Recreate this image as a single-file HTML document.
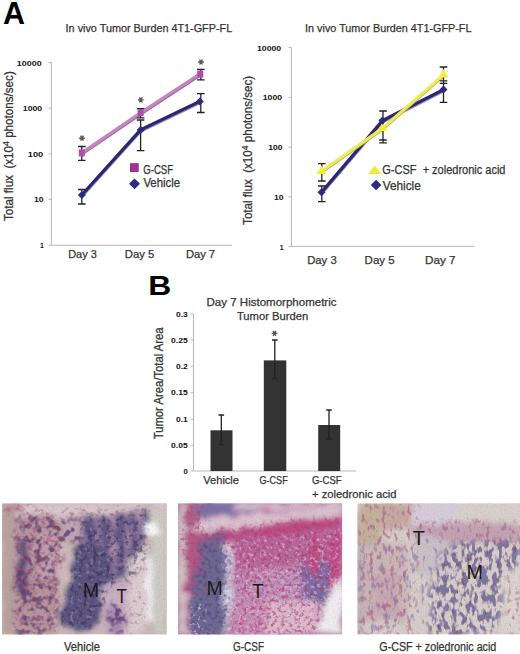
<!DOCTYPE html>
<html><head><meta charset="utf-8">
<style>
html,body{margin:0;padding:0;background:#fff;}
body{width:520px;height:654px;overflow:hidden;position:relative;font-family:"Liberation Sans",sans-serif;}
svg{position:absolute;left:0;top:0;}
text{font-family:"Liberation Sans",sans-serif;}
.t{fill:#333;font-size:11.5px;stroke:#333;stroke-width:0.25px;}
.tl{fill:#333;font-size:12px;stroke:#333;stroke-width:0.25px;}
.tk{fill:#111;font-size:7px;font-weight:bold;}
.ax{stroke:#b8b8b8;stroke-width:1;fill:none;}
.eb{stroke:#222;stroke-width:1.3;fill:none;}
</style></head>
<body>
<svg width="520" height="654" viewBox="0 0 520 654">
<!-- Panel labels -->
<text x="3" y="24.2" font-size="31" font-weight="bold" fill="#000" textLength="22" lengthAdjust="spacingAndGlyphs">A</text>
<text x="148.2" y="294.6" font-size="27.5" font-weight="bold" fill="#000" textLength="23" lengthAdjust="spacingAndGlyphs">B</text>

<!-- LEFT CHART -->
<text class="t" x="65.6" y="32.1" textLength="166.6" lengthAdjust="spacingAndGlyphs">In vivo Tumor Burden 4T1-GFP-FL</text>
<g class="tk" text-anchor="end">
<text x="41.6" y="65.5" textLength="24.8" lengthAdjust="spacingAndGlyphs">10000</text>
<text x="42.2" y="111.2" textLength="19.4" lengthAdjust="spacingAndGlyphs">1000</text>
<text x="43.2" y="157.1" textLength="15.4" lengthAdjust="spacingAndGlyphs">100</text>
<text x="43.6" y="202.4" textLength="9.6" lengthAdjust="spacingAndGlyphs">10</text>
<text x="43.7" y="248.2" textLength="3.8" lengthAdjust="spacingAndGlyphs">1</text>
</g>
<path class="ax" d="M51.4 62.5V245.3H232M48.5 62.5H51.4M48.5 108.2H51.4M48.5 153.9H51.4M48.5 199.3H51.4M48.5 245.3H51.4"/>
<text class="tl" transform="translate(12.8,221) rotate(-90)" x="0" y="0" textLength="149.8" lengthAdjust="spacingAndGlyphs">Total flux&#160; (x10<tspan font-size="9" dy="-4">4</tspan><tspan dy="4"> photons/sec)</tspan></text>
<g class="t">
<text x="68.2" y="257.7" textLength="28.6" lengthAdjust="spacingAndGlyphs">Day 3</text>
<text x="124.8" y="257.7" textLength="29.6" lengthAdjust="spacingAndGlyphs">Day 5</text>
<text x="185.9" y="257.7" textLength="29.2" lengthAdjust="spacingAndGlyphs">Day 7</text>
</g>
<!-- lines -->
<polyline points="81.8,196 140.6,130.9 199.8,102.4" fill="none" stroke="#8a88b0" stroke-width="3.5"/>
<polyline points="81.8,195 140.6,129.9 199.8,101.4" fill="none" stroke="#2a2870" stroke-width="3.2"/>
<polyline points="81.8,153.9 140.6,113.7 199.8,75" fill="none" stroke="#9a6a98" stroke-width="3.5"/>
<polyline points="81.8,152.9 140.6,112.7 199.8,74" fill="none" stroke="#c486c2" stroke-width="3.2"/>
<!-- error bars left -->
<path class="eb" d="M81.8 146.5V160.4M78 146.5H85.6M78 160.4H85.6
M140.6 108.7V117.8M136.8 108.7H144.4M136.8 117.8H144.4
M200.8 69.4V79.8M197 69.4H204.6M197 79.8H204.6
M81.8 189.5V204M78 189.5H85.6M78 204H85.6
M140.6 120V150.7M136.8 120H144.4M136.8 150.7H144.4
M200.8 93.6V112.5M197 93.6H204.6M197 112.5H204.6"/>
<g fill="#b04cae">
<rect x="78.8" y="149.4" width="6" height="7"/>
<rect x="137.6" y="109.2" width="6" height="7"/>
<rect x="197.3" y="70.5" width="6" height="7"/>
</g>
<g fill="#2d2b7a">
<path d="M81.8 191L85.8 195L81.8 199L77.8 195Z"/>
<path d="M140.6 125.9L144.6 129.9L140.6 133.9L136.6 129.9Z"/>
<path d="M199.8 97.4L203.8 101.4L199.8 105.4L195.8 101.4Z"/>
</g>
<path d="M79.10 138.20L84.90 138.20M80.55 135.69L83.45 140.71M83.45 135.69L80.55 140.71" stroke="#555" stroke-width="1.4" fill="none"/><path d="M137.90 99.90L143.70 99.90M139.35 97.39L142.25 102.41M142.25 97.39L139.35 102.41" stroke="#555" stroke-width="1.4" fill="none"/><path d="M198.10 62.00L203.90 62.00M199.55 59.49L202.45 64.51M202.45 59.49L199.55 64.51" stroke="#555" stroke-width="1.4" fill="none"/>
<!-- legend left -->
<rect x="130.4" y="163.7" width="7.8" height="7.8" fill="#a8309c" stroke="#7a2478" stroke-width="0.8"/>
<path d="M134.5 178.4L140 183.8L134.5 189.2L129 183.8Z" fill="#2e2c86"/>
<text class="t" x="143.2" y="173.6" textLength="30" lengthAdjust="spacingAndGlyphs" style="font-size:12px">G-CSF</text>
<text class="t" x="143.4" y="187" textLength="36.6" lengthAdjust="spacingAndGlyphs" style="font-size:12px">Vehicle</text>

<!-- RIGHT CHART -->
<text class="t" x="305.1" y="32" textLength="166.4" lengthAdjust="spacingAndGlyphs">In vivo Tumor Burden 4T1-GFP-FL</text>
<g class="tk" text-anchor="end">
<text x="281.2" y="50.5" textLength="24.2" lengthAdjust="spacingAndGlyphs">10000</text>
<text x="282.1" y="100.3" textLength="19.4" lengthAdjust="spacingAndGlyphs">1000</text>
<text x="282.5" y="150" textLength="14.3" lengthAdjust="spacingAndGlyphs">100</text>
<text x="283.6" y="199.8" textLength="9.6" lengthAdjust="spacingAndGlyphs">10</text>
<text x="283.6" y="249.5" textLength="3.8" lengthAdjust="spacingAndGlyphs">1</text>
</g>
<path class="ax" d="M291.4 47.4V246.4H474.5M288.5 47.4H291.4M288.5 97.4H291.4M288.5 147.2H291.4M288.5 196.8H291.4M288.5 246.4H291.4"/>
<text class="tl" transform="translate(251.8,224.9) rotate(-90)" x="0" y="0" textLength="149" lengthAdjust="spacingAndGlyphs">Total flux&#160; (x10<tspan font-size="9" dy="-4">4</tspan><tspan dy="4"> photons/sec)</tspan></text>
<g class="t">
<text x="307.2" y="264" textLength="29.5" lengthAdjust="spacingAndGlyphs">Day 3</text>
<text x="364.6" y="264" textLength="30" lengthAdjust="spacingAndGlyphs">Day 5</text>
<text x="425" y="264" textLength="30.5" lengthAdjust="spacingAndGlyphs">Day 7</text>
</g>
<polyline points="321.5,193.3 382.5,121.6 443.5,90.6" fill="none" stroke="#8a88b0" stroke-width="3.5"/>
<polyline points="321.5,192.3 382.5,120.6 443.5,89.6" fill="none" stroke="#2a2870" stroke-width="3.2"/>
<polyline points="321.5,172.2 382.5,129.2 443.5,75.8" fill="none" stroke="#b8b24a" stroke-width="3"/><polyline points="321.5,171.2 382.5,128.2 443.5,74.8" fill="none" stroke="#ecea5c" stroke-width="3"/>
<path class="eb" d="M321.8 163.6V181M318 163.6H325.6M318 181H325.6
M321.8 186V201.7M318 186H325.6M318 201.7H325.6
M383 111V143M379.2 111H386.8M379.2 120H386.8M379.2 140H386.8M379.2 142.8H386.8
M443.5 67V102.3M439.7 67H447.3M439.7 80.8H447.3M439.7 83.4H447.3M439.7 102.3H447.3"/>
<g fill="#f5ee3a">
<path d="M321.5 165.5L326.5 174L316.5 174Z"/>
<path d="M382.5 122.5L387.5 131L377.5 131Z"/>
<path d="M443.5 69L448.5 77.5L438.5 77.5Z"/>
</g>
<g fill="#2d2b7a">
<path d="M321.5 188.3L325.5 192.3L321.5 196.3L317.5 192.3Z"/>
<path d="M382.5 116.6L386.5 120.6L382.5 124.6L378.5 120.6Z"/>
<path d="M443.5 85.6L447.5 89.6L443.5 93.6L439.5 89.6Z"/>
</g>
<path d="M374.7 165.2L381.4 174L368 174Z" fill="#f2ea34"/>
<path d="M376.1 179.8L381.4 185L376.1 190.2L370.8 185Z" fill="#2e2c86"/>
<text class="t" x="382.3" y="174.2" textLength="123.2" lengthAdjust="spacingAndGlyphs" style="font-size:12px">G-CSF&#160; + zoledronic acid</text>
<text class="t" x="382.8" y="190.2" textLength="38" lengthAdjust="spacingAndGlyphs" style="font-size:12px">Vehicle</text>

<!-- PANEL B -->
<text class="t" x="206.5" y="305.6" textLength="130" lengthAdjust="spacingAndGlyphs">Day 7 Histomorphometric</text>
<text class="t" x="236.9" y="319.6" textLength="71.4" lengthAdjust="spacingAndGlyphs">Tumor Burden</text>
<g class="tk" text-anchor="end">
<text x="187.8" y="316.5" textLength="11.8" lengthAdjust="spacingAndGlyphs">0.3</text>
<text x="187.8" y="343" textLength="16.7" lengthAdjust="spacingAndGlyphs">0.25</text>
<text x="187.8" y="369.2" textLength="11.8" lengthAdjust="spacingAndGlyphs">0.2</text>
<text x="187.8" y="395.3" textLength="16.7" lengthAdjust="spacingAndGlyphs">0.15</text>
<text x="187.8" y="421.7" textLength="11.8" lengthAdjust="spacingAndGlyphs">0.1</text>
<text x="187.8" y="447.8" textLength="16.7" lengthAdjust="spacingAndGlyphs">0.05</text>
<text x="187.8" y="474" textLength="4.3" lengthAdjust="spacingAndGlyphs">0</text>
</g>
<path class="ax" d="M193.5 313.8V471H356M190.5 314H193.5M190.5 339.9H193.5M190.5 366.3H193.5M190.5 392.7H193.5M190.5 419.3H193.5M190.5 445.4H193.5M190.5 471H193.5"/>
<text class="tl" transform="translate(163,439.3) rotate(-90)" x="0" y="0" textLength="111.8" lengthAdjust="spacingAndGlyphs">Tumor Area/Total Area</text>
<rect x="210.5" y="430.3" width="22" height="40.7" fill="#333"/>
<rect x="263.8" y="360.4" width="22.5" height="110.6" fill="#333"/>
<rect x="318.2" y="425" width="22" height="46" fill="#333"/>
<path class="eb" d="M221.3 415V444.6M218.5 415H224.1M218.5 444.6H224.1
M274.8 340V378.6M272 340H277.6M272 378.6H277.6
M329 410V438.8M326.2 410H331.8M326.2 438.8H331.8"/>
<path d="M271.60 333.40L277.40 333.40M273.05 330.89L275.95 335.91M275.95 330.89L273.05 335.91" stroke="#555" stroke-width="1.4" fill="none"/>
<g class="t">
<text x="203.3" y="484" textLength="35.7" lengthAdjust="spacingAndGlyphs">Vehicle</text>
<text x="259.5" y="484" textLength="28.2" lengthAdjust="spacingAndGlyphs">G-CSF</text>
<text x="311.9" y="484" textLength="29.7" lengthAdjust="spacingAndGlyphs">G-CSF</text>
<text x="312" y="497.6" textLength="84.6" lengthAdjust="spacingAndGlyphs">+ zoledronic acid</text>
</g>

<!-- HISTOLOGY -->
<defs>
<filter id="bl" x="-10%" y="-10%" width="120%" height="120%"><feTurbulence type="fractalNoise" baseFrequency="0.08" numOctaves="2" seed="9" result="t"/><feDisplacementMap in="SourceGraphic" in2="t" scale="12" xChannelSelector="R" yChannelSelector="G" result="d"/><feGaussianBlur in="d" stdDeviation="2.6"/></filter>
<filter id="tex" x="0" y="0" width="100%" height="100%" color-interpolation-filters="sRGB">
<feTurbulence type="fractalNoise" baseFrequency="0.7" numOctaves="1" seed="3" result="n"/>
<feColorMatrix in="n" type="matrix" values="0 0 0 0 0.4  0 0 0 0 0.3  0 0 0 0 0.45  0 0 0 -2.5 1.45"/>
</filter>
<clipPath id="c1"><rect x="0" y="0" width="164.8" height="131.3"/></clipPath>
<filter id="f1_0" x="0" y="0" width="100%" height="100%" color-interpolation-filters="sRGB"><feTurbulence type="fractalNoise" baseFrequency="0.15" numOctaves="2" seed="7"/><feColorMatrix type="matrix" values="0 0 0 0 0.376  0 0 0 0 0.259  0 0 0 0 0.439  5 0 0 0 -2.3"/><feGaussianBlur stdDeviation="0.7"/></filter>
<mask id="m1_0" maskUnits="userSpaceOnUse" x="0" y="0" width="164.8" height="131.3"><g filter="url(#bl)"><path d="M13 12L40 12L60 14L62 36L58 60L56 131.3L13 131.3Z" fill="#fff"/><path d="M106 100L124 100L124 131L106 131Z" fill="#fff"/><path d="M58 14L82 14L86 34L74 40L62 38Z" fill="#fff"/></g></mask>
<filter id="f1_1" x="0" y="0" width="100%" height="100%" color-interpolation-filters="sRGB"><feTurbulence type="fractalNoise" baseFrequency="0.22" numOctaves="2" seed="11"/><feColorMatrix type="matrix" values="0 0 0 0 0.706  0 0 0 0 0.361  0 0 0 0 0.478  5 0 0 0 -2.6"/><feGaussianBlur stdDeviation="0.7"/></filter>
<mask id="m1_1" maskUnits="userSpaceOnUse" x="0" y="0" width="164.8" height="131.3"><g filter="url(#bl)"><path d="M13 12L40 12L60 14L62 36L58 60L56 131.3L13 131.3Z" fill="#fff"/><path d="M0 0L30 0L30 10L0 10Z" fill="#fff"/><path d="M20 6L150 3L150 12L20 14Z" fill="#fff"/></g></mask>
<filter id="f1_2" x="0" y="0" width="100%" height="100%" color-interpolation-filters="sRGB"><feTurbulence type="fractalNoise" baseFrequency="0.22" numOctaves="2" seed="12"/><feColorMatrix type="matrix" values="0 0 0 0 0.706  0 0 0 0 0.431  0 0 0 0 0.549  5 0 0 0 -2.9"/><feGaussianBlur stdDeviation="0.7"/></filter>
<mask id="m1_2" maskUnits="userSpaceOnUse" x="0" y="0" width="164.8" height="131.3"><g filter="url(#bl)"><path d="M126 62L144 40L144 131L126 131Z" fill="#fff"/></g></mask>
<filter id="f1_3" x="0" y="0" width="100%" height="100%" color-interpolation-filters="sRGB"><feTurbulence type="fractalNoise" baseFrequency="0.22" numOctaves="2" seed="13"/><feColorMatrix type="matrix" values="0 0 0 0 0.227  0 0 0 0 0.188  0 0 0 0 0.329  5 0 0 0 -2.5"/><feGaussianBlur stdDeviation="0.7"/></filter>
<mask id="m1_3" maskUnits="userSpaceOnUse" x="0" y="0" width="164.8" height="131.3"><g filter="url(#bl)"><path d="M76 40L94 36L105.9 52.3L109 72L105.9 91.5L99.3 104.6L96 117.7L89.5 125.8L73.2 127.5L61.7 124.2L58.5 111.1L63.4 94.8L68.3 75.2L70 58.8L72 46Z" fill="#fff"/><path d="M82 14L146 8L146 28L142 60L128 76L113 84L104 80L94 50L84 38Z" fill="#fff"/></g></mask>
<filter id="f1_4" x="0" y="0" width="100%" height="100%" color-interpolation-filters="sRGB"><feTurbulence type="fractalNoise" baseFrequency="0.25" numOctaves="2" seed="17"/><feColorMatrix type="matrix" values="0 0 0 0 0.627  0 0 0 0 0.588  0 0 0 0 0.675  6 0 0 0 -3.5"/><feGaussianBlur stdDeviation="0.7"/></filter>
<mask id="m1_4" maskUnits="userSpaceOnUse" x="0" y="0" width="164.8" height="131.3"><g filter="url(#bl)"><path d="M76 40L94 36L105.9 52.3L109 72L105.9 91.5L99.3 104.6L96 117.7L89.5 125.8L73.2 127.5L61.7 124.2L58.5 111.1L63.4 94.8L68.3 75.2L70 58.8L72 46Z" fill="#fff"/><path d="M82 14L146 8L146 28L142 60L128 76L113 84L104 80L94 50L84 38Z" fill="#fff"/></g></mask>
<clipPath id="c2"><rect x="0" y="0" width="164.2" height="131.3"/></clipPath>
<filter id="f2_0" x="0" y="0" width="100%" height="100%" color-interpolation-filters="sRGB"><feTurbulence type="fractalNoise" baseFrequency="0.24" numOctaves="2" seed="21"/><feColorMatrix type="matrix" values="0 0 0 0 0.290  0 0 0 0 0.259  0 0 0 0 0.431  5 0 0 0 -2.5"/><feGaussianBlur stdDeviation="0.7"/></filter>
<mask id="m2_0" maskUnits="userSpaceOnUse" x="0" y="0" width="164.2" height="131.3"><g filter="url(#bl)"><path d="M30 34L46 30L52 60L50 100L48 131.3L12 131.3L12 95L18 70L20 40Z" fill="#fff"/></g></mask>
<filter id="f2_1" x="0" y="0" width="100%" height="100%" color-interpolation-filters="sRGB"><feTurbulence type="fractalNoise" baseFrequency="0.3" numOctaves="2" seed="27"/><feColorMatrix type="matrix" values="0 0 0 0 0.922  0 0 0 0 0.902  0 0 0 0 0.941  6 0 0 0 -3.4"/><feGaussianBlur stdDeviation="0.7"/></filter>
<mask id="m2_1" maskUnits="userSpaceOnUse" x="0" y="0" width="164.2" height="131.3"><g filter="url(#bl)"><path d="M46 40L56 38L58 131L45 131Z" fill="#fff"/><path d="M12 100L30 100L30 131L12 131Z" fill="#fff"/></g></mask>
<filter id="f2_2" x="0" y="0" width="100%" height="100%" color-interpolation-filters="sRGB"><feTurbulence type="fractalNoise" baseFrequency="0.26" numOctaves="2" seed="23"/><feColorMatrix type="matrix" values="0 0 0 0 0.714  0 0 0 0 0.235  0 0 0 0 0.463  5 0 0 0 -2.6"/><feGaussianBlur stdDeviation="0.7"/></filter>
<mask id="m2_2" maskUnits="userSpaceOnUse" x="0" y="0" width="164.2" height="131.3"><g filter="url(#bl)"><path d="M52 38L164.2 24L164.2 75L152 90L145 100L141 131.3L56 131.3L54 70Z" fill="#fff"/><path d="M7 0L30 0L30 90L7 90Z" fill="#fff"/><path d="M0 28L164 12L164 42L0 48Z" fill="#fff"/></g></mask>
<filter id="f2_3" x="0" y="0" width="100%" height="100%" color-interpolation-filters="sRGB"><feTurbulence type="fractalNoise" baseFrequency="0.28" numOctaves="2" seed="25"/><feColorMatrix type="matrix" values="0 0 0 0 0.910  0 0 0 0 0.784  0 0 0 0 0.886  5 0 0 0 -2.65"/><feGaussianBlur stdDeviation="0.7"/></filter>
<mask id="m2_3" maskUnits="userSpaceOnUse" x="0" y="0" width="164.2" height="131.3"><g filter="url(#bl)"><path d="M52 38L164.2 24L164.2 75L152 90L145 100L141 131.3L56 131.3L54 70Z" fill="#fff"/></g></mask>
<filter id="f2_4" x="0" y="0" width="100%" height="100%" color-interpolation-filters="sRGB"><feTurbulence type="fractalNoise" baseFrequency="0.3" numOctaves="2" seed="29"/><feColorMatrix type="matrix" values="0 0 0 0 0.588  0 0 0 0 0.196  0 0 0 0 0.412  5 0 0 0 -2.8"/><feGaussianBlur stdDeviation="0.7"/></filter>
<mask id="m2_4" maskUnits="userSpaceOnUse" x="0" y="0" width="164.2" height="131.3"><g filter="url(#bl)"><path d="M52 38L164.2 24L164.2 75L152 90L145 100L141 131.3L56 131.3L54 70Z" fill="#fff"/></g></mask>
<clipPath id="c3"><rect x="0" y="0" width="162.7" height="131.3"/></clipPath>
<filter id="f3_0" x="0" y="0" width="100%" height="100%" color-interpolation-filters="sRGB"><feTurbulence type="fractalNoise" baseFrequency="0.2 0.11" numOctaves="2" seed="31"/><feColorMatrix type="matrix" values="0 0 0 0 0.463  0 0 0 0 0.424  0 0 0 0 0.596  7 0 0 0 -3.2"/><feGaussianBlur stdDeviation="0.7"/></filter>
<mask id="m3_0" maskUnits="userSpaceOnUse" x="0" y="0" width="162.7" height="131.3"><g filter="url(#bl)"><path d="M98 38L163 35L163 60L145 70L140 131.3L70 131.3L72 90L85 45Z" fill="#fff"/></g></mask>
<filter id="f3_1" x="0" y="0" width="100%" height="100%" color-interpolation-filters="sRGB"><feTurbulence type="fractalNoise" baseFrequency="0.25 0.15" numOctaves="2" seed="37"/><feColorMatrix type="matrix" values="0 0 0 0 0.478  0 0 0 0 0.235  0 0 0 0 0.373  7 0 0 0 -4.3"/><feGaussianBlur stdDeviation="0.7"/></filter>
<mask id="m3_1" maskUnits="userSpaceOnUse" x="0" y="0" width="162.7" height="131.3"><g filter="url(#bl)"><path d="M98 38L163 35L163 60L145 70L140 131.3L70 131.3L72 90L85 45Z" fill="#fff"/></g></mask>
<filter id="f3_2" x="0" y="0" width="100%" height="100%" color-interpolation-filters="sRGB"><feTurbulence type="fractalNoise" baseFrequency="0.22 0.1" numOctaves="2" seed="35"/><feColorMatrix type="matrix" values="0 0 0 0 0.549  0 0 0 0 0.490  0 0 0 0 0.686  6 0 0 0 -3.5"/><feGaussianBlur stdDeviation="0.7"/></filter>
<mask id="m3_2" maskUnits="userSpaceOnUse" x="0" y="0" width="162.7" height="131.3"><g filter="url(#bl)"><path d="M0 40L50 40L50 131L0 131Z" fill="#fff"/><path d="M50 30L100 40L90 131L50 131Z" fill="#fff"/></g></mask>
<filter id="f3_3" x="0" y="0" width="100%" height="100%" color-interpolation-filters="sRGB"><feTurbulence type="fractalNoise" baseFrequency="0.24 0.14" numOctaves="2" seed="33"/><feColorMatrix type="matrix" values="0 0 0 0 0.675  0 0 0 0 0.412  0 0 0 0 0.529  5 0 0 0 -2.65"/><feGaussianBlur stdDeviation="0.7"/></filter>
<mask id="m3_3" maskUnits="userSpaceOnUse" x="0" y="0" width="162.7" height="131.3"><g filter="url(#bl)"><path d="M0 0L60 0L60 131L0 131Z" fill="#fff"/><path d="M54 18L163 18L163 42L54 32Z" fill="#fff"/><path d="M150 70L163 70L163 131L150 131Z" fill="#fff"/></g></mask>
</defs>
<g transform="translate(2,503.3)" clip-path="url(#c1)">
<rect width="164.8" height="131.3" fill="#cbb8b8"/>
<g filter="url(#bl)">
<path d="M0 0L13 0L13 131.3L0 131.3Z" fill="#b9a39e" opacity="1"/>
<path d="M13 0L164.8 0L164.8 5L140 6L110 8L80 11L40 13L13 14Z" fill="#d8cacd" opacity="1"/>
<path d="M0 0L22 0L22 8L0 8Z" fill="#b8929a" opacity="1"/>
<path d="M13 12L40 12L60 14L62 36L58 60L56 131.3L13 131.3Z" fill="#b8979f" opacity="1"/>
<path d="M33 32L52 30L52 75L34 75Z" fill="#c0a0ae" opacity="1"/>
<path d="M15 36L25 34L26 90L16 92Z" fill="#5e4a76" opacity="1"/>
<path d="M56 40L62 38L65 60L62 100L60 125L56 128L55 90Z" fill="#d4bcbc" opacity="1"/>
<path d="M58 14L82 14L88 36L76 40L66 44L60 40Z" fill="#c2a4b4" opacity="1"/>
<path d="M82 14L146 8L146 28L142 60L128 76L113 84L104 80L94 50L84 38Z" fill="#605686" opacity="1"/>
<path d="M95 14L98 14L99 55L96 55Z" fill="#bc98b4" opacity="1"/>
<path d="M110 12L113 12L113 70L110 72Z" fill="#bc98b4" opacity="1"/>
<path d="M124 11L127 11L127 62L124 64Z" fill="#bc98b4" opacity="1"/>
<path d="M136 9L139 9L138 48L136 48Z" fill="#bc98b4" opacity="1"/>
<path d="M76 40L94 36L105.9 52.3L109 72L105.9 91.5L99.3 104.6L96 117.7L89.5 125.8L73.2 127.5L61.7 124.2L58.5 111.1L63.4 94.8L68.3 75.2L70 58.8L72 46Z" fill="#5c5582" opacity="1"/>
<path d="M101 78L113 78L113 131.3L101 131.3Z" fill="#c8b0c4" opacity="1"/>
<path d="M113 80L126 72L126 131.3L113 131.3Z" fill="#c9afc0" opacity="1"/>
<path d="M106 105L121 105L121 131.3L106 131.3Z" fill="#a888b0" opacity="1"/>
<path d="M126 62L144 36L144 131.3L126 131.3Z" fill="#dccdd0" opacity="1"/>
<path d="M143 58L151 50L152 118L144 118Z" fill="#f4f2f4" opacity="1"/>
<path d="M146 8L164.8 6L164.8 131.3L151 131.3L151 40Z" fill="#cdccc4" opacity="1"/>
<path d="M144 20L154 20L154 32L144 32Z" fill="#fafafa" opacity="1"/>
</g>
<g mask="url(#m1_0)"><rect width="164.8" height="131.3" filter="url(#f1_0)" opacity="0.85"/></g>
<g mask="url(#m1_1)"><rect width="164.8" height="131.3" filter="url(#f1_1)" opacity="0.6"/></g>
<g mask="url(#m1_2)"><rect width="164.8" height="131.3" filter="url(#f1_2)" opacity="0.5"/></g>
<g mask="url(#m1_3)"><rect width="164.8" height="131.3" filter="url(#f1_3)" opacity="0.6"/></g>
<g mask="url(#m1_4)"><rect width="164.8" height="131.3" filter="url(#f1_4)" opacity="0.5"/></g>
<rect width="164.8" height="131.3" filter="url(#tex)" opacity="0.12"/>
<text x="80.8" y="93.4" font-size="20" fill="#1a1a1a" textLength="16.4" lengthAdjust="spacingAndGlyphs">M</text>
<text x="114.5" y="100" font-size="20" fill="#1a1a1a" textLength="10.4" lengthAdjust="spacingAndGlyphs">T</text>
</g>
<g transform="translate(178,503.3)" clip-path="url(#c2)">
<rect width="164.2" height="131.3" fill="#bc80a4"/>
<g filter="url(#bl)">
<path d="M0 0L8 0L8 131.3L0 131.3Z" fill="#d2c4c6" opacity="1"/>
<path d="M7 0L20 0L22 22L7 26Z" fill="#b06088" opacity="1"/>
<path d="M18 0L82 0L82 8L50 12L18 14Z" fill="#7c70a6" opacity="1"/>
<path d="M54 0L164.2 0L164.2 4L54 7Z" fill="#d8c2d0" opacity="1"/>
<path d="M24.5 14.7L85 9.8L164.2 4L164.2 13L130 17L85 22.9L40.9 27.8L9.8 32.7Z" fill="#dcc4d2" opacity="1"/>
<path d="M9.8 32.7L40.9 27.8L85 22.9L130 17L164.2 13L164.2 30L130 35L85 40L40 42L8 45Z" fill="#bc4c84" opacity="1"/>
<path d="M7 30L33 28L30 70L18 90L7 90Z" fill="#b25a88" opacity="1"/>
<path d="M30 34L46 30L52 60L50 100L48 131.3L12 131.3L12 95L18 70L20 40Z" fill="#6e6894" opacity="1"/>
<path d="M47 40L55 38L57 70L54 100L51 131.3L46 131.3L48 90L49 60Z" fill="#d4cce0" opacity="1"/>
<path d="M52 38L164.2 24L164.2 75L152 90L145 100L141 131.3L56 131.3L54 70Z" fill="#c08cb4" opacity="1"/>
<path d="M90 38L132 35L132 98L90 98Z" fill="#c094bc" opacity="1"/>
<path d="M56 36L164.2 26L164.2 60L120 62L56 66Z" fill="#b8689a" opacity="1"/>
<path d="M122 62L152 58L154 90L145 102L124 102Z" fill="#7a70a6" opacity="1"/>
<path d="M132 30L140 30L140 72L132 72Z" fill="#c04a80" opacity="1"/>
<path d="M152 30L164.2 28L164.2 75L152 80Z" fill="#c2508a" opacity="1"/>
<path d="M88 98L139 98L139 131.3L88 131.3Z" fill="#dcbccc" opacity="1"/>
<path d="M60 100L88 100L88 131.3L60 131.3Z" fill="#c890b4" opacity="1"/>
<path d="M161.7 74.8L151.9 89.5L145.4 99.3L142.1 114L140.5 131.3L164.2 131.3L164.2 72Z" fill="#f0edf0" opacity="1"/>
</g>
<g mask="url(#m2_0)"><rect width="164.2" height="131.3" filter="url(#f2_0)" opacity="0.55"/></g>
<g mask="url(#m2_1)"><rect width="164.2" height="131.3" filter="url(#f2_1)" opacity="0.6"/></g>
<g mask="url(#m2_2)"><rect width="164.2" height="131.3" filter="url(#f2_2)" opacity="0.6"/></g>
<g mask="url(#m2_3)"><rect width="164.2" height="131.3" filter="url(#f2_3)" opacity="0.55"/></g>
<g mask="url(#m2_4)"><rect width="164.2" height="131.3" filter="url(#f2_4)" opacity="0.45"/></g>
<rect width="164.2" height="131.3" filter="url(#tex)" opacity="0.12"/>
<text x="28.5" y="92.1" font-size="20" fill="#1a1a1a" textLength="16.2" lengthAdjust="spacingAndGlyphs">M</text>
<text x="74.2" y="95.2" font-size="20" fill="#1a1a1a" textLength="11.3" lengthAdjust="spacingAndGlyphs">T</text>
</g>
<g transform="translate(357.3,503.3)" clip-path="url(#c3)">
<rect width="162.7" height="131.3" fill="#d8cfcb"/>
<g filter="url(#bl)">
<path d="M0 0L25 0L25 42L0 42Z" fill="#c6b29c" opacity="1"/>
<path d="M24 0L54 0L54 25L24 25Z" fill="#c8aca4" opacity="1"/>
<path d="M54 0L100 0L100 20L54 22Z" fill="#d8cedb" opacity="1"/>
<path d="M100 0L162.7 0L162.7 20L100 21Z" fill="#dad2cc" opacity="1"/>
<path d="M54 21L100 20L162.7 21L162.7 38L100 40L54 30Z" fill="#c4a4b4" opacity="1"/>
<path d="M0 42L50 40L50 120L0 120Z" fill="#ccb8b8" opacity="1"/>
<path d="M16 70L42 70L42 114L16 114Z" fill="#c8aab4" opacity="1"/>
<path d="M54 30L100 40L85 70L54 68Z" fill="#cdc2c8" opacity="1"/>
<path d="M139 70L162.7 65L162.7 131.3L139 131.3Z" fill="#ddd6d0" opacity="1"/>
<path d="M0 40L5 40L5 131.3L0 131.3Z" fill="#b8a8b4" opacity="1"/>
</g>
<g mask="url(#m3_0)"><rect width="162.7" height="131.3" filter="url(#f3_0)" opacity="0.9"/></g>
<g mask="url(#m3_1)"><rect width="162.7" height="131.3" filter="url(#f3_1)" opacity="0.45"/></g>
<g mask="url(#m3_2)"><rect width="162.7" height="131.3" filter="url(#f3_2)" opacity="0.7"/></g>
<g mask="url(#m3_3)"><rect width="162.7" height="131.3" filter="url(#f3_3)" opacity="0.7"/></g>
<rect width="162.7" height="131.3" filter="url(#tex)" opacity="0.12"/>
<text x="55.5" y="41.8" font-size="20" fill="#1a1a1a" textLength="12.1" lengthAdjust="spacingAndGlyphs">T</text>
<text x="109.1" y="75.5" font-size="20" fill="#1a1a1a" textLength="16.5" lengthAdjust="spacingAndGlyphs">M</text>
</g>
<!-- END HISTOLOGY -->
<g class="t" style="font-size:12px">
<text x="64" y="650.5" textLength="36" lengthAdjust="spacingAndGlyphs">Vehicle</text>
<text x="233" y="650.5" textLength="31" lengthAdjust="spacingAndGlyphs">G-CSF</text>
<text x="379.3" y="650.5" textLength="117" lengthAdjust="spacingAndGlyphs">G-CSF + zoledronic acid</text>
</g>
</svg>
</body></html>
